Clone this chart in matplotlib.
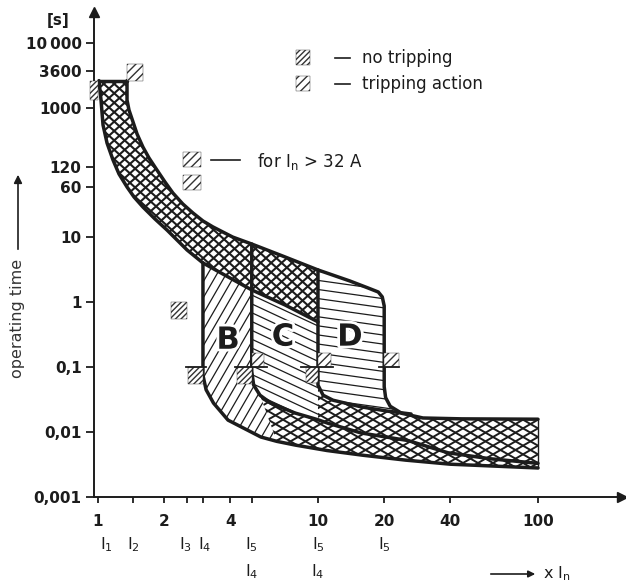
import numpy as np
import matplotlib
matplotlib.use('Agg')
import matplotlib.pyplot as plt
from matplotlib.patches import Polygon, Rectangle
from matplotlib.collections import LineCollection
from matplotlib.lines import Line2D
from matplotlib.ticker import NullFormatter, NullLocator
import matplotlib.patheffects as pe

plt.rcParams['font.family'] = 'DejaVu Sans'
plt.rcParams['mathtext.default'] = 'regular'
plt.rcParams['hatch.color'] = '#333333'
plt.rcParams['hatch.linewidth'] = 1.0

INK = '#1c1c1c'

# ---- curves: x in multiples of In, t in seconds ----
# thermal band, lower ("no tripping") edge
L_x = [1.01, 1.032, 1.054, 1.099, 1.17, 1.246, 1.355, 1.458, 1.60, 1.816, 2.058, 2.54,
       3.0, 3.98, 5.0, 7.08, 10.0]
L_t = [2600, 1309, 540, 285, 156, 94.8, 59.8, 41.9, 29.4, 19.2, 13.0, 6.4,
       4.04, 2.37, 1.55, 0.91, 0.50]
# thermal band upper ("tripping") edge, ending at the D corner
U_x = [1.355, 1.355, 1.383, 1.443, 1.505, 1.60, 1.706, 1.854, 2.016, 2.19, 2.43, 2.70,
       3.0, 3.33, 4.1, 5.0, 7.08, 10.0, 13.96, 16.9, 18.8, 19.6, 20.0]
U_t = [2600, 1309, 918, 600, 392, 247, 167, 109, 71.4, 48.3, 32.7, 23.8,
       17.9, 14.5, 10.1, 7.9, 5.0, 3.15, 2.13, 1.66, 1.44, 1.21, 0.88]
# D right edge (20 In) down into the magnetic band
DR_x = [20, 20, 20.3, 21.3, 24, 30, 45, 100]
DR_t = [0.88, 0.05, 0.034, 0.025, 0.0195, 0.0165, 0.016, 0.0158]
# D left edge (10 In)
DL_x = [10, 10, 10.55, 11.7, 15.7, 20.8, 26.5]
DL_t = [3.15, 0.053, 0.037, 0.031, 0.0245, 0.021, 0.019]
# C edge (5 In)
C_x = [5, 5, 5.1, 5.45, 6.1, 7.86, 10, 11.1, 15.7, 25.7, 39, 60, 100]
C_t = [7.9, 0.086, 0.053, 0.037, 0.028, 0.0197, 0.0155, 0.0137, 0.0097, 0.0074, 0.0048, 0.0039, 0.0033]
# B edge (3 In), lower limit of the magnetic band
B_x = [3, 3, 3.1, 3.35, 3.9, 5.5, 6.5, 7.9, 11, 16, 25, 40, 100]
B_t = [4.04, 0.075, 0.045, 0.028, 0.0153, 0.0084, 0.0072, 0.0063, 0.0052, 0.0044, 0.0037, 0.0032, 0.0028]

# small hatched test-point squares: (x, t, kind, width px, height px)
markers = [(1.0, 2600, 'no', 8, 19), (1.355, 2600, 'trip', 16, 17),
           (2.55, 1.0, 'no', 16, 17),
           (3, 0.1, 'no', 15, 17), (5, 0.1, 'no', 15, 17), (5, 0.1, 'trip', 12, 14),
           (10, 0.1, 'no', 12, 16), (10, 0.1, 'trip', 13, 14), (20, 0.1, 'trip', 15, 14),
           (2.43, 120, 'trip', 18, 15), (2.43, 53, 'trip', 18, 15)]
test_lines_x = [3, 5, 10, 20]

x_ticks = [1, 2, 4, 10, 20, 40, 100]
x_minor = [1.45, 2.55, 3, 5]
y_ticks = [1e-3, 1e-2, 0.1, 1, 10, 60, 120, 1000, 3600, 1e4]
y_labels = ['0,001', '0,01', '0,1', '1', '10', '60', '120', '1000', '3600', '10\u2009000']
i_row1 = [(1.09, '$I_1$'), (1.45, '$I_2$'), (2.5, '$I_3$'), (3.05, '$I_4$'),
          (5, '$I_5$'), (10, '$I_5$'), (20, '$I_5$')]
i_row2 = [(5, '$I_4$'), (10, '$I_4$')]
letters = [(3.9, 0.26, 'B'), (6.93, 0.29, 'C'), (13.96, 0.29, 'D')]

W, H = 626, 588
XLIM = (0.959, 241)
YLIM = (1e-3, 2.97e4)
fig = plt.figure(figsize=(W / 100, H / 100), dpi=100)
ax = fig.add_axes([94 / W, 1 - 497 / H, 528 / W, 485 / H])
ax.set_xscale('log')
ax.set_yscale('log')
ax.set_autoscale_on(False)
ax.set_xlim(*XLIM)
ax.set_ylim(*YLIM)

pxx = ax.bbox.width / np.log10(XLIM[1] / XLIM[0])
pxy = ax.bbox.height / np.log10(YLIM[1] / YLIM[0])


def fp(x, y):
    return x / W, 1 - y / H


def hatch(pts, angle, gap, lw):
    patch = Polygon(pts, closed=True, fc='none', ec='none')
    ax.add_patch(patch)
    a = np.deg2rad(angle)
    d = np.array([np.cos(a), np.sin(a)])
    n = np.array([-d[1], d[0]])
    c = np.array([W, H]) / 200
    R = np.hypot(W, H) / 100
    segs = [[c + o * n - R * d, c + o * n + R * d] for o in np.arange(-R, R, gap / 100)]
    lc = LineCollection(segs, colors=INK, linewidths=lw, transform=fig.dpi_scale_trans)
    lc.set_clip_path(patch)
    ax.add_collection(lc, autolim=False)


def pts(xs, ys):
    return list(zip(xs, ys))


L = pts(L_x, L_t)
U = pts(U_x, U_t)
DR = pts(DR_x, DR_t)
DL = pts(DL_x, DL_t)
C = pts(C_x, C_t)
B = pts(B_x, B_t)

iL3, iL5 = L_x.index(3.0), L_x.index(5.0)
iU10 = U_x.index(10.0)

# regions
thermal = L + U[:iU10 + 1][::-1]
reg_b = L[iL3:iL5 + 1] + C[1:4] + B[1:7][::-1]
reg_c = L[iL5:] + C[1:7][::-1]
reg_d = U[iU10:] + DR[1:5] + DL[1:6][::-1]
band = B[6:] + DR[4:][::-1] + DL[1:6][::-1] + C[3:7][::-1]

hatch(thermal, 42, 7, 1.5)
hatch(thermal, -42, 7, 1.5)
hatch(band, 30, 7.5, 1.4)
hatch(band, -30, 7.5, 1.4)
hatch(reg_b, 60, 8, 0.9)
hatch(reg_c, -25, 8, 0.9)
hatch(reg_d, -8, 9, 0.9)

# outlines
kw = dict(color=INK, lw=2.5, solid_joinstyle='round', solid_capstyle='round')
ax.plot(L_x, L_t, **kw)
ax.plot(U_x + DR_x[1:], U_t + DR_t[1:], **kw)
ax.plot([L_x[0], U_x[0]], [L_t[0], U_t[0]], **kw)
ax.plot(DL_x, DL_t, **kw)
ax.plot(C_x, C_t, **kw)
ax.plot(B_x, B_t, **kw)
ax.plot([B_x[-1], DR_x[-1]], [B_t[-1], DR_t[-1]], color=INK, lw=1.0)

# test points
for x, t, kind, w, h in markers:
    fx, ft = 10 ** (w / pxx), 10 ** (h / pxy)
    if kind == 'no':
        x0, y0 = x / fx, t / ft
        hp = '//////'
    else:
        x0, y0 = x, t
        hp = '////'
    ax.add_patch(Rectangle((x0, y0), x0 * fx - x0, y0 * ft - y0, fc='white',
                           ec='#333333', lw=0.3, hatch=hp, clip_on=False, zorder=3))
for v in test_lines_x:
    lo = 17 if v < 20 else 5
    hi = 15 if v > 3 else 3
    ax.plot([v / 10 ** (lo / pxx), v * 10 ** (hi / pxx)], [0.1, 0.1], color=INK, lw=1.3, zorder=4)

for x, t, s in letters:
    ax.text(x, t, s, fontsize=22, fontweight='bold', ha='center', va='center', color=INK,
            path_effects=[pe.withStroke(linewidth=4, foreground='white')], zorder=5)

# axes
for s in ['top', 'right']:
    ax.spines[s].set_visible(False)
for s in ['left', 'bottom']:
    ax.spines[s].set_linewidth(1.4)
    ax.spines[s].set_color(INK)
ax.plot(1, 0, '>', ms=7, color=INK, transform=ax.transAxes, clip_on=False)
ax.plot(0, 1, '^', ms=7, color=INK, transform=ax.transAxes, clip_on=False)

ax.set_xticks(x_ticks)
ax.set_xticklabels([str(v) for v in x_ticks], fontweight='bold')
ax.set_xticks(x_minor, minor=True)
ax.xaxis.set_minor_formatter(NullFormatter())
ax.set_yticks(y_ticks)
ax.set_yticklabels(y_labels, fontweight='bold')
ax.yaxis.set_minor_locator(NullLocator())
ax.tick_params(axis='x', which='both', direction='out', length=4, width=1.3, pad=8,
               labelsize=11, colors=INK)
ax.tick_params(axis='y', direction='out', length=6, width=1.3, pad=3, labelsize=11, colors=INK)

xt = ax.get_xaxis_transform()
for x, s in i_row1:
    ax.text(x, -0.099, s, transform=xt, ha='center', va='center', fontsize=11.5, color=INK)
for x, s in i_row2:
    ax.text(x, -0.153, s, transform=xt, ha='center', va='center', fontsize=11.5, color=INK)

# texts around the frame
fig.text(*fp(58, 21), '[s]', fontsize=11, fontweight='bold', ha='center', va='center', color=INK)
fig.text(*fp(18, 318), 'operating time', rotation=90, fontsize=11.5, ha='center', va='center',
         color='#333333')
ax.annotate('', xy=fp(18, 172), xytext=fp(18, 252), xycoords='figure fraction',
            arrowprops=dict(arrowstyle='-|>', lw=1.2, color=INK, mutation_scale=12))
ax.annotate('', xy=fp(538, 574), xytext=fp(488, 574), xycoords='figure fraction',
            arrowprops=dict(arrowstyle='-|>', lw=1.2, color=INK, mutation_scale=10))
fig.text(*fp(543, 574), 'x $I_n$', fontsize=11.5, ha='left', va='center', color=INK)

# legend
for y, hp, label in [(58, '//////', 'no tripping'), (84, '////', 'tripping action')]:
    fig.add_artist(Rectangle(fp(296, y + 7), 14 / W, 15 / H, transform=fig.transFigure,
                             fc='white', ec='#333333', lw=0.3, hatch=hp))
    fig.add_artist(Line2D([335 / W, 350 / W], [1 - y / H] * 2, color=INK, lw=1.2,
                          transform=fig.transFigure))
    fig.text(*fp(362, y), label, fontsize=12, ha='left', va='center', color=INK)
fig.add_artist(Line2D([211 / W, 240 / W], [1 - 160 / H] * 2, color=INK, lw=1.2,
                      transform=fig.transFigure))
fig.text(*fp(257, 161), 'for $I_n$ > 32 A', fontsize=12, ha='left', va='center', color=INK)

fig.savefig('out.png', dpi=100)
